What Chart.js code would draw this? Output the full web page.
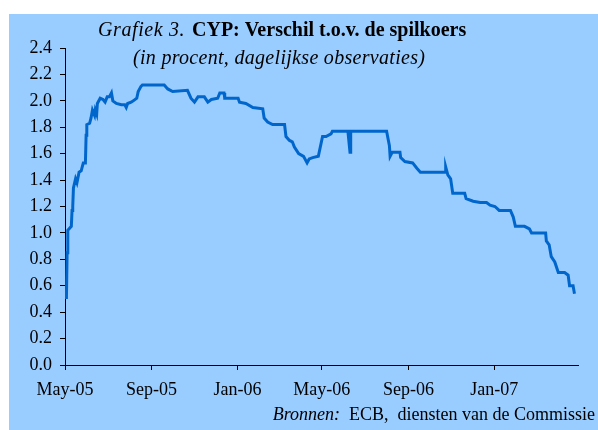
<html>
<head>
    <title>CYP: Verschil t.o.v. de spilkoers</title>
    <script src="https://cdn.jsdelivr.net/npm/chart.js"></script>
    <style>
        body { margin: 0; background: #fff; }
    </style>
</head>
<body>
    <canvas id="cypChart" width="598" height="430"></canvas>

    <script>
        const dates = [
            '2005-05-03', '2005-05-04', '2005-05-05', '2005-05-10', '2005-05-11', '2005-05-12', '2005-05-13',
            '2005-05-16', '2005-05-18', '2005-05-21', '2005-05-24', '2005-05-27', '2005-05-30', '2005-05-31',
            '2005-06-01', '2005-06-05', '2005-06-07', '2005-06-09', '2005-06-12', '2005-06-13', '2005-06-15',
            '2005-06-16', '2005-06-20', '2005-06-24', '2005-06-27', '2005-06-30', '2005-07-03', '2005-07-06',
            '2005-07-08', '2005-07-13', '2005-07-20', '2005-07-25', '2005-07-27', '2005-07-29', '2005-08-03',
            '2005-08-06', '2005-08-11', '2005-08-13', '2005-08-17', '2005-08-19', '2005-09-19', '2005-09-24',
            '2005-10-01', '2005-10-22', '2005-10-27', '2005-11-01', '2005-11-06', '2005-11-15', '2005-11-20',
            '2005-11-25', '2005-12-04', '2005-12-07', '2005-12-13', '2005-12-14', '2006-01-02', '2006-01-04',
            '2006-01-13', '2006-01-23', '2006-02-06', '2006-02-08', '2006-02-13', '2006-02-20', '2006-03-09',
            '2006-03-11', '2006-03-16', '2006-03-20', '2006-03-23', '2006-03-29', '2006-04-05', '2006-04-10',
            '2006-04-13', '2006-04-18', '2006-04-26', '2006-05-02', '2006-05-07', '2006-05-14', '2006-05-16',
            '2006-06-07', '2006-06-10', '2006-06-11', '2006-08-01', '2006-08-05', '2006-08-06', '2006-08-09',
            '2006-08-20', '2006-08-21', '2006-08-27', '2006-09-07', '2006-09-13', '2006-09-18', '2006-10-23',
            '2006-10-24', '2006-10-27', '2006-10-31', '2006-11-03', '2006-11-20', '2006-11-22', '2006-12-02',
            '2006-12-12', '2006-12-21', '2006-12-26', '2007-01-02', '2007-01-08', '2007-01-24', '2007-01-28',
            '2007-01-31', '2007-02-13', '2007-02-20', '2007-02-23', '2007-03-15', '2007-03-16', '2007-03-20',
            '2007-03-23', '2007-03-28', '2007-04-02', '2007-04-11', '2007-04-16', '2007-04-18', '2007-04-23',
            '2007-04-25'
        ];
        const values = [
            0.50, 0.85, 1.02, 1.05, 1.17, 1.20, 1.34,
            1.41, 1.38, 1.46, 1.47, 1.53, 1.53, 1.74,
            1.82, 1.83, 1.87, 1.93, 1.89, 1.93, 1.90,
            1.98, 2.02, 2.01, 1.99, 2.03, 2.03, 2.06,
            2.00, 1.98, 1.97, 1.97, 1.95, 1.98, 1.99,
            2.00, 2.02, 2.07, 2.11, 2.12, 2.12, 2.09,
            2.07, 2.08, 2.02, 1.99, 2.03, 2.03, 1.99,
            2.01, 2.02, 2.06, 2.06, 2.02, 2.02, 1.99,
            1.98, 1.95, 1.94, 1.87, 1.84, 1.82, 1.82,
            1.73, 1.70, 1.69, 1.65, 1.60, 1.58, 1.53,
            1.56, 1.57, 1.58, 1.73, 1.73, 1.75, 1.77,
            1.77, 1.61, 1.77, 1.77, 1.66, 1.58, 1.61,
            1.61, 1.57, 1.54, 1.53, 1.49, 1.46, 1.46,
            1.50, 1.44, 1.41, 1.30, 1.30, 1.26, 1.24,
            1.23, 1.23, 1.21, 1.20, 1.17, 1.17, 1.12,
            1.05, 1.05, 1.03, 1.00, 1.00, 0.94, 0.91,
            0.82, 0.78, 0.70, 0.70, 0.68, 0.60, 0.60,
            0.54
        ];

        const xTickDates = ['2005-05-01', '2005-09-01', '2006-01-01', '2006-05-01', '2006-09-01', '2007-01-01'];
        const xTickLabels = ['May-05', 'Sep-05', 'Jan-06', 'May-06', 'Sep-06', 'Jan-07'];
        const xStart = '2005-05-01';
        const xEnd = '2007-04-30';
        const yMin = 0, yMax = 2.4, yStep = 0.2;

        const titleItalic = 'Grafiek 3.';
        const titleBold = 'CYP: Verschil t.o.v. de spilkoers';
        const subtitle = '(in procent, dagelijkse observaties)';
        const sourceItalic = 'Bronnen:';
        const sourceText = 'ECB,  diensten van de Commissie';

        function dayNum(s) {
            const p = s.split('-').map(Number);
            return (Date.UTC(p[0], p[1] - 1, p[2]) - Date.UTC(2005, 4, 1)) / 86400000;
        }

        const points = dates.map((d, i) => ({ x: dayNum(d), y: values[i] }));
        const serif = '"Liberation Serif", "Times New Roman", serif';

        const frame = {
            id: 'frame',
            beforeDraw(chart) {
                const ctx = chart.ctx;
                ctx.save();
                ctx.fillStyle = '#ffffff';
                ctx.fillRect(0, 0, chart.width, chart.height);
                ctx.fillStyle = '#99ccff';
                ctx.fillRect(9, 14, chart.width - 9, chart.height - 14);
                ctx.restore();
            },
            afterDraw(chart) {
                const ctx = chart.ctx;
                ctx.save();
                ctx.fillStyle = '#000';
                ctx.textBaseline = 'alphabetic';
                ctx.textAlign = 'left';

                // title: italic part + bold part
                ctx.font = 'italic 20px ' + serif;
                ctx.letterSpacing = '0.6px';
                ctx.fillText(titleItalic, 98, 36);
                ctx.letterSpacing = '0px';
                ctx.font = 'bold 20px ' + serif;
                ctx.fillText(titleBold, 192, 36);

                ctx.font = 'italic 20px ' + serif;
                ctx.letterSpacing = '0.3px';
                ctx.fillText(subtitle, 133, 64);
                ctx.letterSpacing = '0px';

                // source line, right aligned
                ctx.font = '18px ' + serif;
                const w2 = ctx.measureText(sourceText).width;
                ctx.fillText(sourceText, 595 - w2, 420);
                ctx.font = 'italic 18px ' + serif;
                const w3 = ctx.measureText(sourceItalic + '  ').width;
                ctx.fillText(sourceItalic, 595 - w2 - w3, 420);
                ctx.restore();
            }
        };

        new Chart(document.getElementById('cypChart').getContext('2d'), {
            type: 'line',
            data: {
                datasets: [{
                    label: 'CYP',
                    data: points,
                    borderColor: '#0066cc',
                    borderWidth: 3,
                    pointRadius: 0,
                    tension: 0,
                    fill: false
                }]
            },
            options: {
                responsive: false,
                animation: false,
                devicePixelRatio: 1,
                layout: { padding: { left: 9, top: 48, right: 20, bottom: 20 } },
                plugins: {
                    legend: { display: false },
                    tooltip: { enabled: false }
                },
                scales: {
                    x: {
                        type: 'linear',
                        min: dayNum(xStart),
                        max: dayNum(xEnd),
                        afterBuildTicks: scale => {
                            scale.ticks = xTickDates.map(d => ({ value: dayNum(d) }));
                        },
                        afterFit: scale => { scale.height = 45; },
                        ticks: {
                            color: '#000',
                            font: { family: serif, size: 18 },
                            padding: 9,
                            maxRotation: 0,
                            autoSkip: false,
                            callback: (v, i) => xTickLabels[i]
                        },
                        grid: { drawOnChartArea: false, drawTicks: true, tickLength: 5, color: '#000' },
                        border: { display: true, color: '#000', width: 1 }
                    },
                    y: {
                        min: yMin,
                        max: yMax,
                        afterFit: scale => { scale.width = 56; },
                        ticks: {
                            stepSize: yStep,
                            color: '#000',
                            font: { family: serif, size: 18 },
                            padding: 8,
                            callback: v => v.toFixed(1)
                        },
                        grid: { drawOnChartArea: false, drawTicks: true, tickLength: 5, color: '#000' },
                        border: { display: true, color: '#000', width: 1 }
                    }
                }
            },
            plugins: [frame]
        });
    </script>
</body>
</html>
